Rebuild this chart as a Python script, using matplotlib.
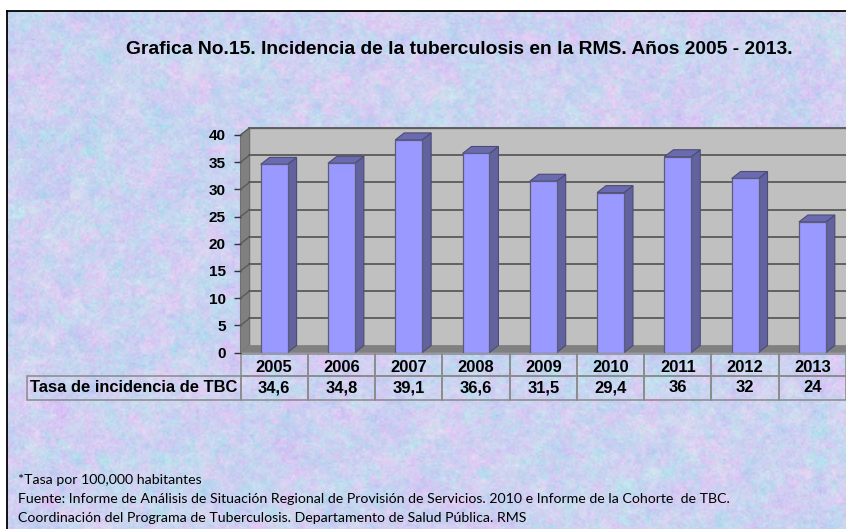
import numpy as np
import matplotlib
matplotlib.use("Agg")
from matplotlib import pyplot as plt
from matplotlib.patches import Polygon

years = ["2005", "2006", "2007", "2008", "2009", "2010", "2011", "2012", "2013"]
tasa = [34.6, 34.8, 39.1, 36.6, 31.5, 29.4, 36, 32, 24]
tasa_labels = ["34,6", "34,8", "39,1", "36,6", "31,5", "29,4", "36", "32", "24"]
yticks = [0, 5, 10, 15, 20, 25, 30, 35, 40]

W, H = 846, 529
plt.rcParams['font.family'] = ['Liberation Sans', 'DejaVu Sans']
fig = plt.figure(figsize=(W/100, H/100), dpi=100, facecolor="white")

def px_axes(x0, y0, x1, y1):
    # pixel box measured from the top left corner
    return fig.add_axes([x0/W, 1-y1/H, (x1-x0)/W, (y1-y0)/H])

def mottle(rng, cell, h=518, w=840):
    # coarse noise grid stretched up with linear blending, only for the paper texture
    g = rng.normal(size=(h//cell+2, w//cell+2))
    ys = np.arange(h)/cell
    xs = np.arange(w)/cell
    y0 = ys.astype(int)
    x0 = xs.astype(int)
    fy = (ys-y0)[:, None]
    fx = (xs-x0)[None, :]
    fy = fy*fy*(3-2*fy)
    fx = fx*fx*(3-2*fx)
    top = g[y0][:, x0]*(1-fx)+g[y0][:, x0+1]*fx
    bot = g[y0+1][:, x0]*(1-fx)+g[y0+1][:, x0+1]*fx
    return top*(1-fy)+bot*fy

"""
textured paper background
"""
bg = px_axes(7, 11, 847, 529)
rng = np.random.default_rng(15)
a = 0.35*mottle(rng, 40)+0.6*mottle(rng, 14)+0.7*mottle(rng, 5)
b = 0.35*mottle(rng, 40)+0.6*mottle(rng, 14)+0.7*mottle(rng, 5)
grain = mottle(rng, 2)
tex = np.zeros((518, 840, 3))
tex[..., 0] = 0.80+0.03*a-0.03*b+0.015*grain
tex[..., 1] = 0.825-0.025*a-0.01*b+0.015*grain
tex[..., 2] = 0.945+0.006*a+0.012*grain
bg.imshow(np.clip(tex, 0, 1), aspect="auto", interpolation="bilinear")
bg.set_xticks([]), bg.set_yticks([])
for s in ["right", "bottom"]:
    bg.spines[s].set_visible(False)
for s in ["left", "top"]:
    bg.spines[s].set_linewidth(1.3)
    bg.spines[s].set_color("black")

"""
chart, front plane of the 3d box is the real axes
"""
ax = px_axes(240.5, 135, 846, 352.5)
ax.set_xlim(0, 9)
ax.set_ylim(0, 40)
ax.patch.set_visible(False)
dx = 9/67.3
dy = 7/5.44
xpos = np.arange(9)+0.5
bw = 0.4

ax.add_patch(Polygon([(dx, dy), (9+dx, dy), (9+dx, 40+dy), (dx, 40+dy)], fc="#c0c0c0", ec="#777777", lw=1, clip_on=False, zorder=1))
ax.add_patch(Polygon([(0, 0), (dx, dy), (dx, 40+dy), (0, 40)], fc="#808080", ec="#707070", lw=0.8, clip_on=False, zorder=1))
ax.add_patch(Polygon([(0, 0), (9, 0), (9+dx, dy), (dx, dy)], fc="#808080", ec="#808080", lw=0.5, clip_on=False, zorder=1))
for t in yticks[1:]:
    ax.plot([dx, 9+dx], [t+dy, t+dy], color="#5a5a5a", lw=1.3, clip_on=False, zorder=2)
    ax.plot([0, dx], [t, t+dy], color="#5a5a5a", lw=1, clip_on=False, zorder=2)

for x, v in zip(xpos, tasa):
    l, r = x-bw/2, x+bw/2
    ax.add_patch(Polygon([(r, 0), (r+dx, dy), (r+dx, v+dy), (r, v)], fc="#62629f", ec="#4c4c78", lw=0.8, clip_on=False, zorder=3))
    ax.add_patch(Polygon([(l, v), (r, v), (r+dx, v+dy), (l+dx, v+dy)], fc="#6a6aae", ec="#4c4c78", lw=0.8, clip_on=False, zorder=3))
ax.bar(xpos, tasa, width=bw, color="#9999ff", edgecolor="#5c5c78", linewidth=0.9, zorder=4)

ax.set_yticks(yticks)
ax.set_yticklabels([str(t) for t in yticks], fontsize=11, fontweight="bold")
ax.tick_params(axis="y", length=5, width=1, color="#333333", pad=5.8)
ax.set_xticks(xpos)
ax.set_xticklabels(years, fontsize=11.9, fontweight="bold")
ax.tick_params(axis="x", length=0, pad=5.5)
for s in ax.spines.values():
    s.set_visible(False)

"""
data table under the chart, years sit in the top row as x tick labels
"""
label_w = (240.5-26.7)/605.5
rows = [[""]*10, ["Tasa de incidencia de TBC"]+tasa_labels]
tb = ax.table(cellText=rows, colWidths=[label_w]+[1/9]*9, cellLoc="center",
              bbox=[-label_w, -47.5/217.5, 1+label_w, 46/217.5])
tb.auto_set_font_size(False)
for (r, c), cell in tb.get_celld().items():
    cell.set_facecolor("none")
    cell.set_edgecolor("#8a8a8a")
    cell.set_linewidth(1.1)
    cell.set_text_props(fontweight="bold", fontsize=11.9, color="black")
    cell.PAD = 0.01
    cell.set_height(22 if r == 0 else 24)
tb[(0, 0)].visible_edges = ""

fig.text(126/W, 1-49/H, "Grafica No.15. Incidencia de la tuberculosis en la RMS. Años 2005 - 2013.",
         fontsize=13.9, fontweight="bold", va="center", ha="left")

foot = ["*Tasa por 100,000 habitantes",
        "Fuente: Informe de Análisis de Situación Regional de Provisión de Servicios. 2010 e Informe de la Cohorte  de TBC.",
        "Coordinación del Programa de Tuberculosis. Departamento de Salud Pública. RMS"]
for y, t in zip([480, 499, 518], foot):
    fig.text(18/W, 1-y/H, t, fontsize=10.15, family=["Lato", "DejaVu Sans"], va="center", ha="left")

fig.savefig("out.png", dpi=100)
